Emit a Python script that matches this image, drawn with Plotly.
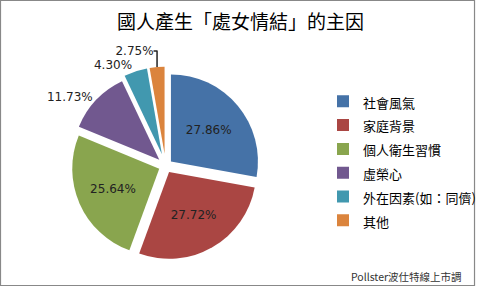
import plotly.graph_objects as go

categories = ["社會風氣", "家庭背景", "個人衛生習慣", "虛榮心", "外在因素(如：同儕)", "其他"]
values = [27.86, 27.72, 25.64, 11.73, 4.30, 2.75]
colors = ["#4572A7", "#AA4643", "#89A54E", "#71588F", "#4198AF", "#DB843D"]
pulls = [0.08, 0.08, 0.08, 0.1, 0.14, 0.14]
text_pos = ["inside", "inside", "inside", "outside", "outside", "outside"]

W, H = 481, 289
cx, cy, half = 167, 167, 100

legend_labels = [f'<span style="font-size:13px">{c}</span>' for c in categories]

fig = go.Figure(go.Pie(
    labels=legend_labels,
    values=values,
    sort=False,
    direction="clockwise",
    rotation=0,
    pull=pulls,
    marker=dict(colors=colors, line=dict(width=0)),
    texttemplate="%{value:.2f}%",
    textposition=text_pos,
    insidetextorientation="horizontal",
    textfont=dict(family="DejaVu Sans", size=12, color="#222222"),
    hoverinfo="label+value",
    domain=dict(x=[(cx - half) / W, (cx + half) / W],
                y=[(H - cy - half) / H, (H - cy + half) / H]),
    showlegend=True,
))

fig.update_layout(
    width=W, height=H,
    margin=dict(l=0, r=0, t=0, b=0),
    paper_bgcolor="white",
    plot_bgcolor="white",
    title=dict(text="國人產生「處女情結」的主因", x=0.5, xanchor="center",
               y=1 - 22 / H, yanchor="middle",
               font=dict(family="Noto Sans CJK TC", size=19, color="#000000")),
    legend=dict(x=326 / W, xanchor="left", y=1 - 85 / H, yanchor="top",
                font=dict(family="Noto Sans CJK TC", size=16, color="#000000"),
                bgcolor="rgba(0,0,0,0)", itemwidth=30),
    shapes=[dict(type="rect", xref="paper", yref="paper",
                 x0=0.5 / W, y0=1.5 / H, x1=478.5 / W, y1=1 - 0.5 / H,
                 line=dict(color="#888888", width=1.2))],
    annotations=[dict(text="Pollster波仕特線上市調", xref="paper", yref="paper",
                      x=468 / W, y=1 - 278 / H, xanchor="right", yanchor="middle",
                      showarrow=False,
                      font=dict(family="Noto Sans CJK TC", size=10.5, color="#333333"))],
)

fig.write_html("out.html")
